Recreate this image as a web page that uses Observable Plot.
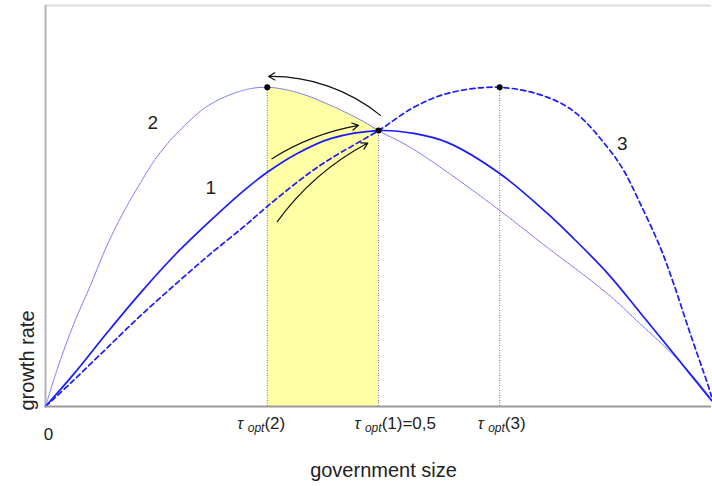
<!DOCTYPE html>
<html><head><meta charset="utf-8">
<script src="https://cdn.jsdelivr.net/npm/d3@7"></script>
<script src="https://cdn.jsdelivr.net/npm/@observablehq/plot@0.6"></script>
<style>body{margin:0;background:#fff} #chart{width:712px;height:486px}</style>
</head><body><div id="chart"></div>
<script>
// Curve 1 (solid): growth rate vs government size
const x1 = [0, 0.042, 0.093, 0.143, 0.195, 0.248, 0.296, 0.333, 0.378, 0.428, 0.5, 0.553, 0.604, 0.682, 0.754, 0.793, 0.844, 0.893, 0.943, 1.0];
const y1 = [0, 0.080, 0.185, 0.284, 0.379, 0.464, 0.536, 0.584, 0.631, 0.668, 0.688, 0.681, 0.658, 0.581, 0.481, 0.419, 0.332, 0.234, 0.132, 0.015];
// Curve 2 (thin dotted)
const x2 = [0, 0.018, 0.042, 0.068, 0.093, 0.117, 0.143, 0.168, 0.203, 0.245, 0.296, 0.333, 0.378, 0.428, 0.477, 0.5, 0.548, 0.608, 0.682, 0.754, 0.844, 0.893, 0.943, 0.983, 1.0];
const y2 = [0, 0.095, 0.204, 0.304, 0.404, 0.484, 0.559, 0.624, 0.691, 0.751, 0.788, 0.796, 0.783, 0.751, 0.711, 0.688, 0.646, 0.579, 0.489, 0.396, 0.281, 0.206, 0.128, 0.054, 0.017];
// Curve 3 (dashed)
const x3 = [0, 0.042, 0.093, 0.143, 0.198, 0.245, 0.296, 0.333, 0.395, 0.428, 0.5, 0.553, 0.604, 0.682, 0.754, 0.797, 0.844, 0.868, 0.893, 0.923, 0.943, 0.968, 0.994, 1.0];
const y3 = [0, 0.065, 0.147, 0.227, 0.309, 0.377, 0.446, 0.499, 0.581, 0.618, 0.688, 0.746, 0.781, 0.796, 0.771, 0.731, 0.646, 0.589, 0.506, 0.397, 0.307, 0.182, 0.057, 0.025];

// Optima
const tauX = [0.333, 0.5, 0.682];
const tauY = [0.796, 0.688, 0.796];
const tauLabels = ["τopt(2)", "τopt(1)=0,5", "τopt(3)"];

// Curve number labels
const curveLabels = ["1", "2", "3"];
const curveLabelX = [0.248, 0.161, 0.866];
const curveLabelY = [0.544, 0.708, 0.656];

// Arrows (from -> to)
const arrowX1 = [0.503, 0.340, 0.348];
const arrowY1 = [0.726, 0.618, 0.461];
const arrowX2 = [0.335, 0.470, 0.484];
const arrowY2 = [0.823, 0.701, 0.657];

const xTitle = "government size";
const yTitle = "growth rate";
const originLabel = "0";

const rows = (xs, ys) => xs.map((x, i) => ({x, y: ys[i]}));
const c1 = rows(x1, y1), c2 = rows(x2, y2), c3 = rows(x3, y3);
const shaded = c2.filter(d => d.x >= tauX[0] && d.x <= tauX[1]);
const opt = tauX.map((x, i) => ({x, y: tauY[i], label: tauLabels[i]}));
const labs = curveLabels.map((t, i) => ({t, x: curveLabelX[i], y: curveLabelY[i]}));
const arrows = arrowX1.map((x, i) => ({x1: x, y1: arrowY1[i], x2: arrowX2[i], y2: arrowY2[i]}));
const bends = [-20, 11, 13];
const tickDx = [-30, -24, -22];

const font = "Arial, 'Liberation Sans', sans-serif";
const blue = "#1a1aff";

const plot = Plot.plot({
  width: 712, height: 486,
  marginLeft: 45, marginRight: 1, marginTop: 5, marginBottom: 80,
  x: {domain: [0, 1], axis: null},
  y: {domain: [0, 1], axis: null},
  style: {fontFamily: font, background: "white", overflow: "visible"},
  marks: [
    Plot.areaY(shaded, {x: "x", y: "y", fill: "#ffffa5", curve: "catmull-rom"}),
    Plot.ruleY([1], {stroke: "#dcdcdc", strokeWidth: 2}),
    Plot.ruleX([0], {stroke: "#b4b4b4", strokeWidth: 2}),
    Plot.ruleX(opt, {x: "x", y1: 0, y2: "y", stroke: "#777", strokeWidth: 1, strokeDasharray: "1,1.5"}),
    Plot.line(c2, {x: "x", y: "y", stroke: "#6a6aff", strokeWidth: 1, strokeDasharray: "1,1", curve: "catmull-rom"}),
    Plot.line(c1, {x: "x", y: "y", stroke: blue, strokeWidth: 1.7, curve: "catmull-rom"}),
    Plot.line(c3, {x: "x", y: "y", stroke: blue, strokeWidth: 1.7, strokeDasharray: "5,3.5", curve: "catmull-rom"}),
    Plot.ruleY([0], {stroke: "#9a9a9a", strokeWidth: 2}),
    Plot.dot(opt, {x: "x", y: "y", r: 3, fill: "#000"}),
    ...arrows.map((a, i) => Plot.arrow([a], {x1: "x1", y1: "y1", x2: "x2", y2: "y2", bend: bends[i], stroke: "#111", strokeWidth: 1.2, headLength: 9})),
    Plot.text(labs, {x: "x", y: "y", text: "t", fontSize: 19, fill: "#222"}),
    ...opt.map((d, i) => Plot.text([d], {x: "x", y: 0, text: "label", dy: 17, dx: tickDx[i], textAnchor: "start", fontSize: 17, fill: "#222"})),
    Plot.text([originLabel], {x: 0, y: 0, text: d => d, dy: 28, dx: 3, fontSize: 17, fill: "#222"}),
    Plot.text([xTitle], {x: 0.5, y: 0, text: d => d, dy: 64, dx: 5, fontSize: 20, fill: "#222"}),
    Plot.text([yTitle], {x: 0, y: 0, text: d => d, dx: -18, dy: 4, rotate: -90, textAnchor: "start", fontSize: 20, fill: "#222"})
  ]
});

d3.select(plot).selectAll("text").each(function() {
  const t = this.textContent;
  if (t.startsWith("τopt")) {
    const rest = t.slice(4);
    const s = d3.select(this);
    s.text(null);
    s.append("tspan").attr("font-style", "italic").attr("font-size", 16).text("τ ");
    s.append("tspan").attr("font-style", "italic").attr("font-size", 12).attr("dy", 3).text("opt");
    s.append("tspan").attr("dy", -3).text(rest);
  }
});

document.getElementById("chart").appendChild(plot);
</script></body></html>
